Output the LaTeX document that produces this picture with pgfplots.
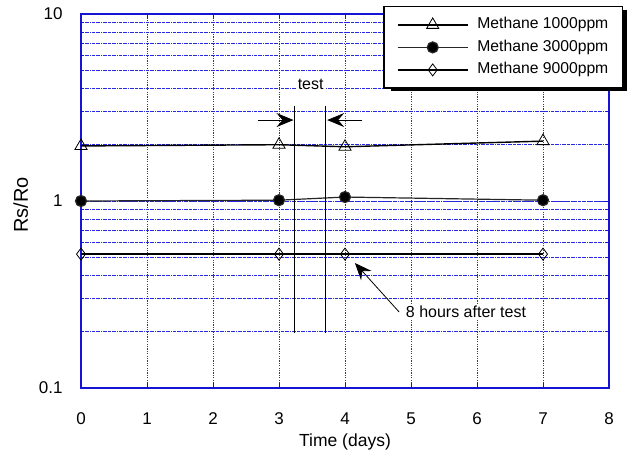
\documentclass[border=0pt]{standalone}
\usepackage{pgfplots}
\pgfplotsset{compat=1.18}
\usepackage{fontspec}
\setmainfont{Liberation Sans}
\usetikzlibrary{arrows.meta}

\definecolor{gridblue}{RGB}{40,40,220}
\definecolor{axblue}{RGB}{20,20,210}

\begin{document}
\begin{tikzpicture}
\begin{axis}[
    scale only axis,
    width=528pt, height=374pt,
    ymode=log,
    xmin=0, xmax=8, ymin=0.1, ymax=10,
    xtick={0,1,...,8},
    ytick={0.1,1,10},
    yticklabels={0.1,1,10},
    /pgf/number format/assume math mode=true,
    axis line style={axblue, line width=1.3pt},
    tick style={axblue, line width=0.8pt},
    major tick length=5pt, minor tick length=3pt,
    tick align=inside,
    grid=both,
    major grid style={gridblue, line width=0.6pt, dash pattern=on 1.2pt off 1.2pt},
    minor grid style={gridblue, line width=0.6pt, dash pattern=on 3pt off 0.8pt on 0.8pt off 0.8pt},
    ymajorgrids, yminorgrids, xmajorgrids,
    ticklabel style={font=\fontsize{17}{17}\selectfont},
    xticklabel style={yshift=-21pt},
    yticklabel style={xshift=-15pt},
    xlabel={Time (days)},
    ylabel={Rs/Ro},
    xlabel style={font=\fontsize{17.5}{17.5}\selectfont, yshift=-2pt},
    ylabel style={font=\fontsize{20}{20}\selectfont, yshift=4pt, xshift=-4pt},
    clip=false,
    legend cell align=left,
    legend image code/.code={\draw[mark repeat=2,mark phase=2,#1] plot coordinates {(0pt,0pt)(35pt,0pt)(70pt,0pt)};},
    legend style={
        at={(1.0265,1.0214)}, anchor=north east,
        font=\fontsize{15.7}{15.7}\selectfont,
        draw=black, line width=1.3pt, fill=white,
        inner xsep=13pt, inner ysep=10pt,
        row sep=6pt, column sep=8pt,
        nodes={inner sep=1pt, text height=11pt, text depth=3.5pt},
    },
]
\coordinate (bl) at (rel axis cs:0,0);
\coordinate (tr) at (rel axis cs:1,1);

% legend shadow (drawn beneath the legend box)
\fill[black] (rel axis cs:0.5871,0.7941) rectangle (rel axis cs:1.0341,1.0107);

\addplot[black, line width=1.4pt, mark=triangle, mark size=7pt, mark options={solid, line width=0.8pt, fill=white}]
    coordinates {(0,1.97) (3,2.0) (4,1.95) (7,2.09)};
\addlegendentry{Methane 1000ppm}
\addplot[black!85, line width=1.2pt, mark=*, mark size=5.5pt, mark options={solid, fill=black}]
    coordinates {(0,1.0) (3,1.01) (4,1.05) (7,1.01)};
\addlegendentry{Methane 3000ppm}
\addplot[black, line width=1.4pt, mark=diamond, mark size=6pt, mark options={solid, line width=0.8pt, fill=white}]
    coordinates {(0,0.52) (3,0.52) (4,0.52) (7,0.52)};
\addlegendentry{Methane 9000ppm}

% test window
\draw[black, line width=0.8pt] (axis cs:3.24,0.197) -- (axis cs:3.24,3.22);
\draw[black, line width=0.8pt] (axis cs:3.71,0.197) -- (axis cs:3.71,3.22);
\draw[black, line width=0.8pt, -{Stealth[length=17pt,width=14pt,inset=6pt]}] (axis cs:2.68,2.71) -- (axis cs:3.22,2.71);
\draw[black, line width=0.8pt, -{Stealth[length=17pt,width=14pt,inset=6pt]}] (axis cs:4.26,2.71) -- (axis cs:3.73,2.71);
\node[fill=white, inner sep=2pt, font=\fontsize{16}{16}\selectfont] at (axis cs:3.48,4.2) {test};

% 8 hours annotation
\draw[black, line width=0.8pt, -{Stealth[length=17pt,width=14pt,inset=6pt]}] (axis cs:4.82,0.255) -- (axis cs:4.15,0.466);
\node[anchor=west, fill=white, inner sep=2pt, font=\fontsize{16}{16}\selectfont] at (axis cs:4.89,0.255) {8 hours after test};
\end{axis}
\path ([shift={(-81pt,-69pt)}]bl) rectangle ([shift={(19pt,14pt)}]tr);
\end{tikzpicture}
\end{document}
